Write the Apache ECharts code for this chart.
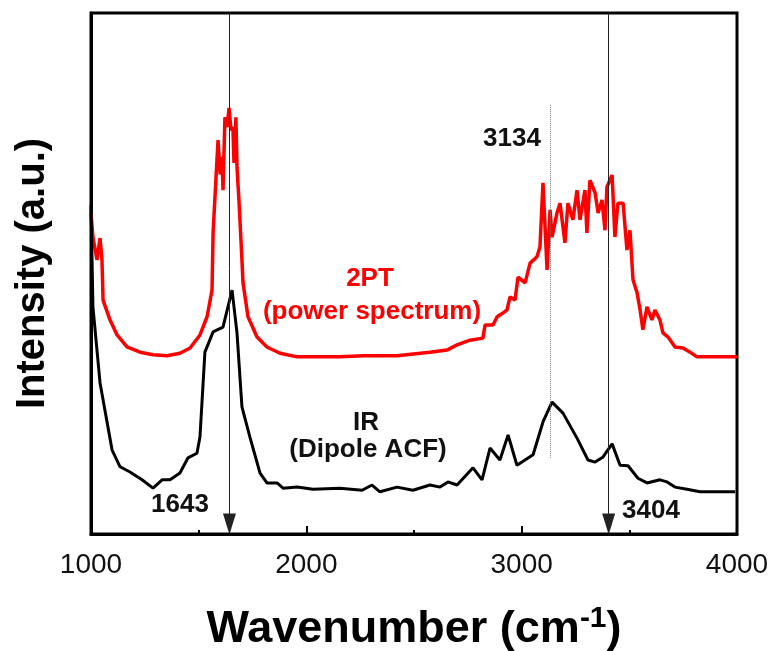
<!DOCTYPE html>
<html>
<head>
<meta charset="utf-8">
<title>IR vs 2PT</title>
<script src="https://cdn.jsdelivr.net/npm/echarts@6/dist/echarts.min.js"></script>
<style>
    html, body { margin: 0; padding: 0; background: #fff; }
    #chart_main { width: 771px; height: 651px; }
</style>
</head>
<body>
<div id="chart_main"></div>
<script>
/* wavenumber (cm-1) / intensity (a.u.) */
var irWave = [1000, 1009, 1042, 1098, 1135, 1181, 1237, 1288, 1330, 1367, 1413, 1450, 1492, 1506, 1529, 1567, 1613, 1655, 1678, 1701,
    1738, 1785, 1817, 1864, 1892, 1957, 2031, 2156, 2259, 2305, 2342, 2421, 2495, 2574, 2621, 2658, 2700, 2774, 2816, 2853,
    2899, 2937, 2978, 3053, 3099, 3141, 3192, 3257, 3308, 3341, 3378, 3420, 3457, 3494, 3540, 3582, 3642, 3675, 3712, 3768,
    3828, 3907, 3991];
var irValue = [63.1, 43.6, 29.0, 16.1, 12.9, 11.9, 10.4, 8.8, 10.4, 10.4, 11.7, 14.6, 15.5, 18.6, 34.9, 38.8, 39.7, 46.8, 38.6, 24.4,
    18.6, 11.7, 9.8, 9.8, 8.8, 9.0, 8.6, 8.8, 8.4, 9.4, 8.1, 9.0, 8.4, 9.4, 9.0, 10.0, 9.4, 12.7, 10.4, 16.5,
    14.2, 19.0, 13.2, 15.2, 21.5, 25.3, 23.2, 18.4, 14.2, 13.8, 14.8, 17.3, 13.2, 13.1, 10.7, 9.8, 10.4, 10.0, 9.0, 8.6,
    8.1, 8.1, 8.1];

var ptWave = [1000, 1009, 1028, 1042, 1051, 1056, 1088, 1121, 1167, 1228, 1288, 1353, 1413, 1460, 1506, 1539, 1562, 1567, 1580, 1590,
    1600, 1608, 1613, 1622, 1632, 1641, 1650, 1659, 1664, 1673, 1678, 1687, 1701, 1706, 1729, 1771, 1817, 1878, 1957, 2063,
    2156, 2263, 2421, 2574, 2653, 2700, 2760, 2820, 2830, 2867, 2886, 2913, 2932, 2946, 2969, 2983, 3016, 3039, 3071, 3085,
    3099, 3118, 3132, 3141, 3164, 3178, 3201, 3215, 3238, 3257, 3271, 3294, 3303, 3317, 3341, 3355, 3373, 3387, 3396, 3420,
    3433, 3447, 3471, 3489, 3503, 3517, 3536, 3550, 3563, 3582, 3605, 3619, 3642, 3656, 3680, 3712, 3749, 3782, 3814, 3875,
    4000];
var ptValue = [61.6, 57.0, 52.6, 56.8, 52.6, 44.9, 41.1, 38.2, 35.9, 34.9, 34.4, 34.2, 34.7, 35.7, 38.2, 41.7, 46.8, 57.8, 68.0, 75.6,
    69.0, 72.4, 66.0, 80.0, 78.1, 81.8, 77.5, 78.1, 71.2, 80.0, 70.4, 64.1, 52.6, 48.2, 41.7, 37.8, 35.9, 34.7, 34.0, 34.0,
    34.0, 34.2, 34.2, 34.9, 35.3, 36.3, 37.2, 37.6, 40.1, 40.1, 41.7, 42.4, 43.0, 45.5, 44.9, 49.3, 48.2, 52.0, 53.2, 55.1,
    67.4, 50.7, 62.2, 57.0, 61.6, 63.5, 55.9, 63.5, 60.3, 66.0, 60.3, 66.0, 57.8, 67.9, 65.5, 61.6, 64.1, 58.3, 66.6, 68.9,
    57.0, 63.5, 63.5, 54.5, 58.3, 48.8, 46.3, 43.0, 39.2, 43.6, 41.1, 43.0, 41.1, 38.6, 37.8, 35.9, 35.7, 34.9, 34.0, 34.0,
    34.0];

var arrowPeaks = [1643, 3404];
var dottedPeak = 3134;
var dottedRange = [14.6, 82.3];

function toPairs(xs, ys) {
    var arr = [];
    for (var i = 0; i < xs.length; i++) {
        arr.push([xs[i], ys[i]]);
    }
    return arr;
}

var chart_main = null;

function initChart() {
    chart_main = echarts.init(document.getElementById('chart_main'));

    var peakLines = [];
    for (var i = 0; i < arrowPeaks.length; i++) {
        peakLines.push([
            { coord: [arrowPeaks[i], 100], symbol: 'none' },
            { coord: [arrowPeaks[i], 1.9], symbol: 'triangle', symbolSize: [13, 21] }
        ]);
    }

    var boldFont = '"Liberation Sans", Arial, sans-serif';

    var option = {
        animation: false,
        backgroundColor: '#fff',
        grid: {
            left: 91,
            right: 34,
            top: 13,
            bottom: 117,
            outerBoundsMode: 'none',
            containLabel: false,
            show: true,
            borderColor: '#000',
            borderWidth: 3
        },
        xAxis: {
            type: 'value',
            min: 1000,
            max: 4000,
            interval: 1000,
            name: 'Wavenumber (cm{sup|-1})',
            nameLocation: 'middle',
            nameGap: 70,
            nameTextStyle: {
                fontFamily: boldFont,
                fontWeight: 'bold',
                fontSize: 45,
                color: '#000',
                rich: {
                    sup: {
                        fontFamily: boldFont,
                        fontWeight: 'bold',
                        fontSize: 30,
                        verticalAlign: 'top',
                        padding: [0, 0, 22, 0],
                        color: '#000'
                    }
                }
            },
            axisLine: { lineStyle: { color: '#000', width: 3 } },
            axisTick: { inside: true, length: 8, lineStyle: { color: '#000', width: 2 } },
            minorTick: { show: true, splitNumber: 2, length: 4, lineStyle: { color: '#000', width: 2 } },
            axisLabel: {
                margin: 17,
                fontSize: 28,
                fontFamily: '"Liberation Sans", Arial, sans-serif',
                color: '#111',
                formatter: function (v) { return String(v); }
            },
            splitLine: { show: false }
        },
        yAxis: {
            type: 'value',
            min: 0,
            max: 100,
            name: 'Intensity (a.u.)',
            nameLocation: 'middle',
            nameGap: 38,
            nameTextStyle: {
                fontFamily: boldFont,
                fontWeight: 'bold',
                fontSize: 40,
                color: '#000'
            },
            axisLine: { show: true, lineStyle: { color: '#000', width: 3 } },
            axisTick: { show: false },
            axisLabel: { show: false },
            splitLine: { show: false }
        },
        series: [
            {
                name: '2PT',
                type: 'line',
                data: toPairs(ptWave, ptValue),
                showSymbol: false,
                lineStyle: { color: '#ff0000', width: 3.5 },
                z: 3
            },
            {
                name: 'IR',
                type: 'line',
                data: toPairs(irWave, irValue),
                showSymbol: false,
                lineStyle: { color: '#000', width: 3 },
                z: 4,
                markLine: {
                    silent: true,
                    label: { show: false },
                    lineStyle: { color: '#222', width: 1, type: 'solid' },
                    symbol: ['none', 'triangle'],
                    data: peakLines.concat([
                        [
                            { coord: [dottedPeak, dottedRange[1]], symbol: 'none', lineStyle: { type: 'dotted', color: '#777' } },
                            { coord: [dottedPeak, dottedRange[0]], symbol: 'none' }
                        ]
                    ])
                }
            }
        ],
        graphic: [
            { type: 'text', x: 180, y: 505, style: { text: '1643', font: 'bold 26px ' + boldFont, fill: '#111', align: 'center', verticalAlign: 'middle' } },
            { type: 'text', x: 651, y: 511, style: { text: '3404', font: 'bold 26px ' + boldFont, fill: '#111', align: 'center', verticalAlign: 'middle' } },
            { type: 'text', x: 512, y: 139, style: { text: '3134', font: 'bold 26px ' + boldFont, fill: '#111', align: 'center', verticalAlign: 'middle' } },
            { type: 'text', x: 370, y: 279, style: { text: '2PT', font: 'bold 26px ' + boldFont, fill: '#ff0000', align: 'center', verticalAlign: 'middle' } },
            { type: 'text', x: 372, y: 312, style: { text: '(power spectrum)', font: 'bold 26px ' + boldFont, fill: '#ff0000', align: 'center', verticalAlign: 'middle' } },
            { type: 'text', x: 366, y: 423, style: { text: 'IR', font: 'bold 26px ' + boldFont, fill: '#111', align: 'center', verticalAlign: 'middle' } },
            { type: 'text', x: 368, y: 450, style: { text: '(Dipole ACF)', font: 'bold 26px ' + boldFont, fill: '#111', align: 'center', verticalAlign: 'middle' } }
        ]
    };

    chart_main.setOption(option);
}

initChart();
</script>
</body>
</html>
